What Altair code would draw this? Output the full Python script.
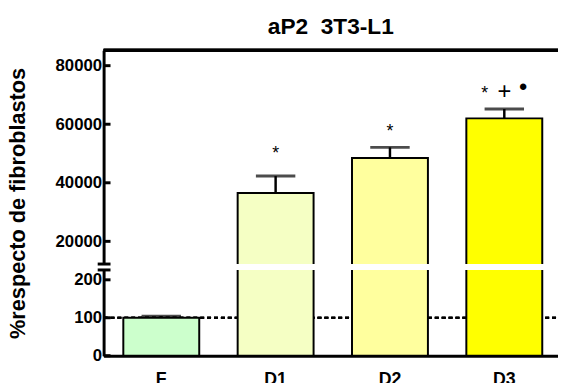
import altair as alt
import pandas as pd

FONT = "Liberation Sans"

# ---- data ----
categories = ["F", "D1", "D2", "D3"]
means = [100, 36500, 48500, 62000]
errors = [4, 5800, 3600, 3200]
bar_colors = ["#CCFFCC", "#F5FFC4", "#FFFF9E", "#FFFF00"]

tick_values = [0, 100, 200, 20000, 40000, 60000, 80000]
reference_value = 100

# broken axis: lower segment 0..lower_max, upper segment upper_min..upper_max
lower_max = 226
upper_min = 12250
upper_max = 85300
break_values = [upper_min, lower_max]

annot_cat = ["D1", "D2", "D3", "D3", "D3"]
annot_sym = ["*", "*", "*", "+", "\u2022"]
annot_slot = ["b", "b", "a", "b", "c"]
annot_y = [48200, 55600, 68600, 68600, 70000]

# ---- layout / style ----
W = 461
H = 310
gap_top = 217
gap_bottom = 223
slot_dx = {"a": -20, "b": 0, "c": 19}
sym_sizes = {"*": 18, "+": 24, "\u2022": 24}

bars_df = pd.DataFrame({"cat": categories, "mean": means, "err": errors})
bars_df["hi"] = bars_df["mean"] + bars_df["err"]
ann_df = pd.DataFrame({"cat": annot_cat, "sym": annot_sym, "slot": annot_slot, "y": annot_y})
ticks_df = pd.DataFrame({"t": tick_values})
breaks_df = pd.DataFrame({"b": break_values})

x_scale = alt.Scale(domain=categories, paddingInner=0.336, paddingOuter=0.155, align=0.556)
y_scale = alt.Scale(domain=[0, lower_max, upper_min, upper_max],
                    range=[H, gap_bottom, gap_top, 0], nice=False, zero=False)

x_axis = alt.Axis(title=None, domainWidth=3, domainColor="black", ticks=False, tickSize=0,
                  labelFontSize=18, labelFontWeight="bold", labelPadding=15, labelAngle=0,
                  labelColor="black", labelFont=FONT)
y_axis = alt.Axis(title="%respecto de fibroblastos", values=tick_values, format="d",
                  ticks=False, tickSize=0, grid=False, domainWidth=3, domainColor="black",
                  labelFontSize=17, labelFontWeight="bold", labelPadding=2, labelOverlap=False,
                  labelColor="black", labelFont=FONT,
                  titleFontSize=22, titleFontWeight="bold", titleFont=FONT, titleColor="black",
                  titleX=-87, titleY=155, titleAngle=270, titleAlign="center",
                  titleBaseline="middle")

X = alt.X("cat:N", scale=x_scale, sort=categories, axis=x_axis)

ref_line = alt.Chart(bars_df).mark_rule(strokeDash=[4, 3], strokeWidth=2, color="black").encode(
    x=alt.value(0), x2=alt.value(W), y=alt.datum(reference_value))

stems = alt.Chart(bars_df).mark_rule(strokeWidth=2.5, color="black").encode(
    x=X, y=alt.Y("mean:Q", scale=y_scale, axis=y_axis), y2="hi:Q")

caps = alt.Chart(bars_df).mark_tick(size=40, thickness=3, color="black").encode(
    x=X, y="hi:Q")

bars = alt.Chart(bars_df).mark_bar(stroke="black", strokeWidth=2).encode(
    x=X, y="mean:Q",
    color=alt.Color("cat:N", scale=alt.Scale(domain=categories, range=bar_colors), legend=None))

gap = alt.Chart(bars_df).mark_rect(color="white").encode(
    x=alt.value(-3), x2=alt.value(W), y=alt.datum(upper_min), y2=alt.datum(lower_max))

break_marks = alt.Chart(breaks_df).mark_rule(strokeWidth=3, color="black").encode(
    x=alt.value(-6), x2=alt.value(7), y="b:Q")

tick_marks = alt.Chart(ticks_df).mark_rule(strokeWidth=3, color="black").encode(
    x=alt.value(0), x2=alt.value(7), y="t:Q")

top_border = alt.Chart(bars_df).mark_rule(strokeWidth=3, color="black").encode(
    x=alt.value(0), x2=alt.value(W), y=alt.value(0))

texts = []
for slot, dx in slot_dx.items():
    for s, fs in sym_sizes.items():
        texts.append(
            alt.Chart(ann_df).transform_filter((alt.datum.sym == s) & (alt.datum.slot == slot))
            .mark_text(fontSize=fs, font=FONT, color="black", baseline="alphabetic",
                       align="center", dx=dx)
            .encode(x=X, y="y:Q", text="sym:N"))

chart = alt.layer(ref_line, stems, caps, bars, gap, break_marks, tick_marks, top_border, *texts).properties(
    width=W, height=H,
    title=alt.Title("aP2\u00a0 3T3-L1", fontSize=23, fontWeight="bold", font=FONT,
                    offset=10, anchor="middle", frame="group", color="black"),
    autosize=alt.AutoSizeParams(type="none"),
    padding={"left": 97, "top": 40, "right": 0, "bottom": 30},
).configure_view(strokeWidth=0)

chart.save("out.html", embed_options={"renderer": "svg", "actions": False})
